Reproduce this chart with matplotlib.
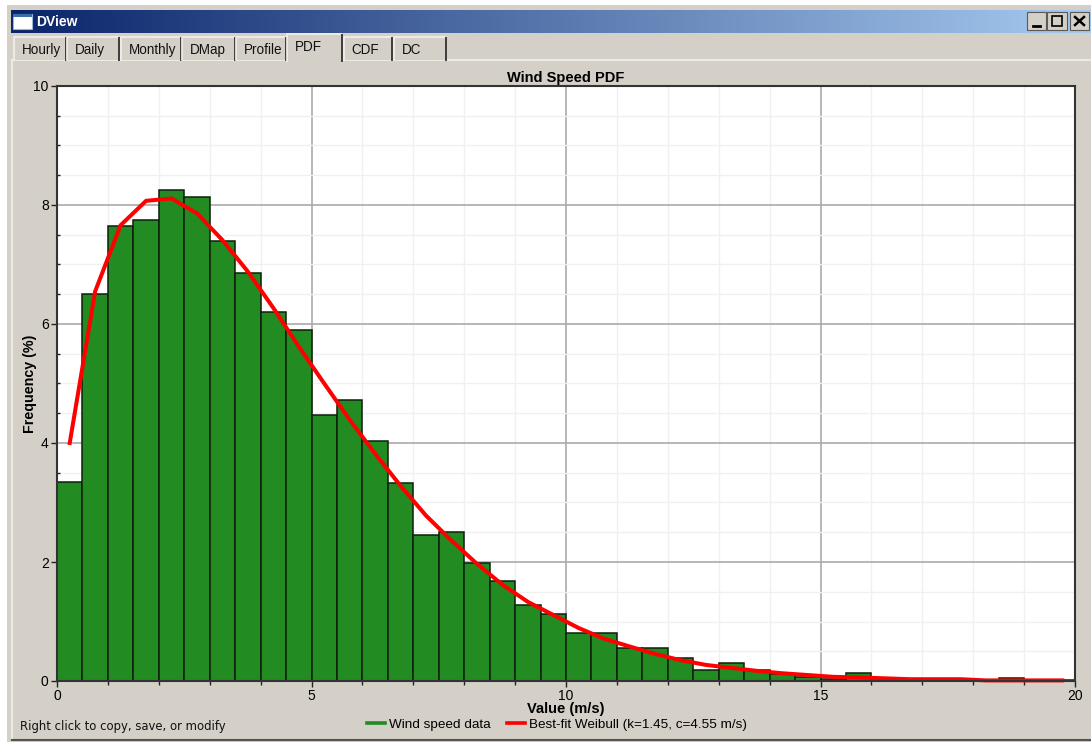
import numpy as np
import matplotlib
matplotlib.use('Agg')
import matplotlib.pyplot as plt
from matplotlib.patches import Rectangle
from matplotlib.lines import Line2D

plt.rcParams['font.family'] = ['Liberation Sans', 'DejaVu Sans']

# histogram, 0.5 m/s bins
bin_edges = np.arange(0, 20, 0.5)
freq = [3.35, 6.5, 7.65, 7.75, 8.25, 8.13, 7.4, 6.85, 6.2, 5.9,
        4.47, 4.72, 4.04, 3.32, 2.45, 2.51, 1.98, 1.68, 1.28, 1.13,
        0.81, 0.8, 0.55, 0.56, 0.38, 0.19, 0.31, 0.19, 0.11, 0.07,
        0.04, 0.13, 0.01, 0.01, 0.01, 0.01, 0.01, 0.05, 0.01, 0.01]

# weibull fit, drawn through the bin centres
fit_x = np.arange(0.25, 20, 0.5)
fit_y = [4.0, 6.55, 7.66, 8.07, 8.11, 7.86, 7.41, 6.88, 6.27, 5.62,
         5.0, 4.39, 3.82, 3.28, 2.78, 2.36, 1.97, 1.62, 1.33, 1.11,
         0.89, 0.71, 0.58, 0.455, 0.35, 0.27, 0.22, 0.17, 0.13, 0.1,
         0.07, 0.06, 0.045, 0.03, 0.03, 0.03, 0.01, 0.01, 0.01, 0.01]

tab_names = ['Hourly', 'Daily', 'Monthly', 'DMap', 'Profile', 'PDF', 'CDF', 'DC']
tab_left = [14, 67, 121, 182, 236, 287, 344, 394]
tab_right = [66, 119, 181, 235, 286, 342, 392, 446]

W, H = 1091, 742
BG = '#d4d0c8'

fig = plt.figure(figsize=(W / 100, H / 100), dpi=100, facecolor='white')

# window chrome, in pixel coordinates
win = fig.add_axes([0, 0, 1, 1], zorder=0)
win.set_xlim(0, W)
win.set_ylim(H, 0)
win.axis('off')
win.add_patch(Rectangle((7, 5), W - 7, H - 5, fc=BG, ec='none'))
win.plot([12, W], [60, 60], color='#f2f0ec', lw=1.2)
win.plot([12, 12], [60, 739], color='#f2f0ec', lw=1.2)
win.plot([12, W], [740, 740], color='#55534f', lw=1.5)

grad = np.linspace(0, 1, 256).reshape(1, -1, 1)
c0 = np.array([10, 36, 106]) / 255
c1 = np.array([166, 202, 240]) / 255
win.imshow(c0 + (c1 - c0) * grad, extent=[11, W, 33, 10], aspect='auto', zorder=1)
win.set_xlim(0, W)
win.set_ylim(H, 0)
win.add_patch(Rectangle((13, 14), 19, 15, fc='white', ec='#9fb4d8', lw=0.8, zorder=2))
win.add_patch(Rectangle((13, 14), 19, 3, fc='#3a6ea5', ec='none', zorder=2))
win.text(36, 22, 'DView', color='white', fontsize=10, fontweight='bold', va='center', zorder=3)

for bx, bw in [(1027, 19), (1047, 20), (1070, 19)]:
    win.add_patch(Rectangle((bx, 12), bw, 18, fc=BG, ec='#5a5a5a', lw=0.8, zorder=2))
win.plot([1033, 1040], [26, 26], color='black', lw=2, zorder=3)
win.add_patch(Rectangle((1052, 16), 10, 10, fc='none', ec='black', lw=1.2, zorder=3))
win.plot([1075, 1084], [17, 25], color='black', lw=1.8, zorder=3)
win.plot([1075, 1084], [25, 17], color='black', lw=1.8, zorder=3)

for name, l, r in zip(tab_names, tab_left, tab_right):
    active = name == 'PDF'
    top = 34 if active else 37
    bot = 61 if active else 60
    win.add_patch(Rectangle((l, top), r - l, bot - top, fc=BG, ec='none', zorder=2))
    win.plot([l, l, r - 1], [bot, top, top], color='#f2f0ec', lw=1.2, zorder=3)
    win.plot([r, r], [top + 1, bot], color='#3c3c3c', lw=1.4, zorder=3)
    win.text(l + 7.5, 50 if not active else 47, name, fontsize=9.75, color='#111111',
             va='center', ha='left', zorder=4)

win.text(20, 726.5, 'Right click to copy, save, or modify', fontsize=8.4,
         family='DejaVu Sans', color='#111111', va='center')

# plot
ax = fig.add_axes([57 / W, 1 - 681 / H, (1075 - 57) / W, (681 - 86) / H], zorder=2)
ax.set_xlim(0, 20)
ax.set_ylim(0, 10)
ax.set_facecolor('white')
ax.set_xticks(np.arange(0, 21, 5))
ax.set_xticks(np.arange(0, 21, 1), minor=True)
ax.set_yticks(np.arange(0, 11, 2))
ax.set_yticks(np.arange(0, 10.5, 0.5), minor=True)
ax.grid(which='minor', color='#f0f0f0', lw=1)
ax.grid(which='major', color='#aaaaaa', lw=1.2)
ax.set_axisbelow(True)

ax.bar(bin_edges, freq, width=0.5, align='edge', color='#228b22', edgecolor='#0d1f0d', lw=1.1)
ax.plot(fit_x, fit_y, color='#ff0000', lw=2.9, solid_joinstyle='miter', clip_on=False)

ax.tick_params(which='major', length=4, width=1, labelsize=10, pad=2, color='#222222')
ax.tick_params(axis='x', which='minor', length=3, width=1, color='#222222')
ax.tick_params(axis='y', which='minor', length=2, width=1, direction='in', color='#222222')
for s in ax.spines.values():
    s.set_linewidth(1.5)
    s.set_color('#333333')

ax.set_title('Wind Speed PDF', fontsize=10.5, fontweight='bold', pad=3)
ax.set_xlabel('Value (m/s)', fontsize=10.5, fontweight='bold', labelpad=-1)
ax.set_ylabel('Frequency (%)', fontsize=10.3, fontweight='bold', labelpad=-3)

handles = [Line2D([], [], color='#228b22', lw=2.6), Line2D([], [], color='#ff0000', lw=2.6)]
labels = ['Wind speed data', 'Best-fit Weibull (k=1.45, c=4.55 m/s)']
fig.legend(handles, labels, ncol=2, frameon=False, fontsize=9.7, loc='center',
           bbox_to_anchor=(557 / W, 1 - 725 / H), handlelength=1.35, handletextpad=0.35,
           columnspacing=1.15, borderpad=0)

fig.savefig('out.png', dpi=100)
